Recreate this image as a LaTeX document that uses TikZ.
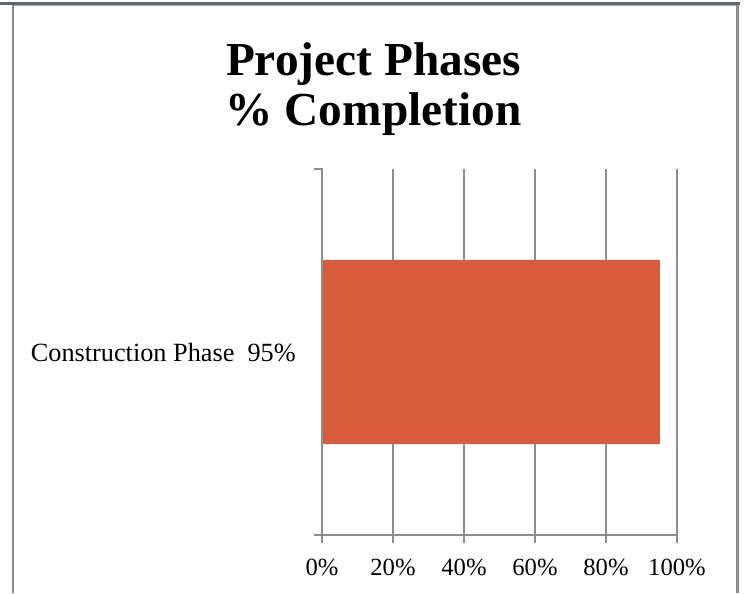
\documentclass[tikz,border=0pt]{standalone}
\usepackage{fontspec}
\setmainfont{Liberation Serif}
\usepackage{tikz}
\usepackage{xcolor}
\definecolor{barorange}{RGB}{217,91,61}
\definecolor{frameslate}{RGB}{88,104,120}
\definecolor{framegray}{RGB}{140,140,140}
\definecolor{gridgray}{RGB}{141,141,141}
\tikzset{
  gridline/.style={draw=gridgray,line width=1.5pt},
  ticklabel/.style={anchor=base,font=\fontsize{18.5}{22}\selectfont},
  titleline/.style={anchor=base,font=\fontsize{35.5}{40}\selectfont\bfseries}
}

\begin{document}
\begin{tikzpicture}[x=0.75pt,y=0.75pt,yscale=-1,xscale=1]
    \useasboundingbox (0,0) rectangle (746,593);
    \fill [frameslate] (0,2) rectangle (740,5.3);
    \fill [framegray!70] (14,5.3) rectangle (737,6.3);
    \fill [framegray] (12,5.3) rectangle (14.2,593);
    \fill [framegray] (736.3,5.3) rectangle (738.5,593);
    \draw [gridline]  (393,169) -- (393,543)(464,169) -- (464,543)(535,169) -- (535,543)(606,169) -- (606,543)(677,169) -- (677,543) ;
    \fill [barorange] (322.5,260) rectangle (660,444) ;
    \draw [gridline]  (314,169) -- (322,169) -- (322,543) (314,535) -- (677,535) ;
    \draw (373.5,75) node [titleline] (titletop) {Project Phases};
    \draw (373.5,125) node [titleline] (titlebot) {\% Completion};
    \draw (296,361.7) node [anchor=base east,inner sep=0pt,font=\fontsize{19.7}{23}\selectfont] (catlabel) {Construction Phase\ \ 95\%};
    \draw (322,575) node [ticklabel] (tick0) {0\%};
    \draw (393,575) node [ticklabel] (tick20) {20\%};
    \draw (464,575) node [ticklabel] (tick40) {40\%};
    \draw (535,575) node [ticklabel] (tick60) {60\%};
    \draw (606,575) node [ticklabel] (tick80) {80\%};
    \draw (677,575) node [ticklabel] (tick100) {100\%};
  \end{tikzpicture}
\end{document}
